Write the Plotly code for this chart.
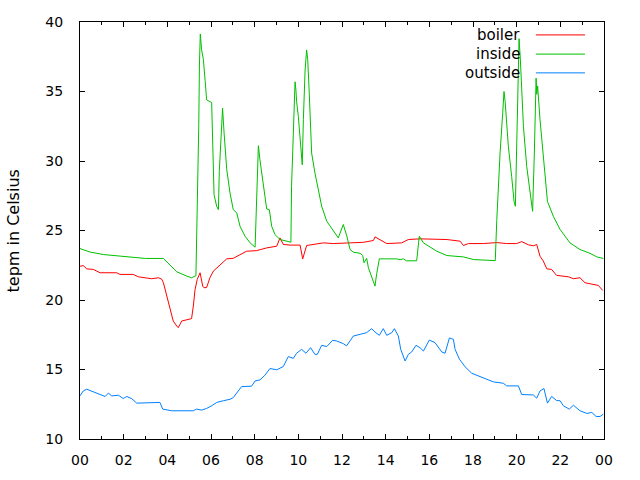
import plotly.graph_objects as go

# ---- data (hour of day, temperature in Celsius) ----
inside_h = [0, 0.46, 1.07, 1.83, 2.75, 3.0, 3.82, 4.43, 4.89, 5.11, 5.31, 5.34, 5.37, 5.44, 5.47, 5.51,
            5.57, 5.65, 5.73, 5.80, 6.03, 6.08, 6.14, 6.26, 6.34, 6.38, 6.49, 6.53, 6.60, 6.72, 6.87,
            7.02, 7.18, 7.33, 7.56, 7.79, 8.02, 8.06, 8.12, 8.17, 8.24, 8.37, 8.47, 8.55, 8.67, 8.78,
            8.93, 9.16, 9.47, 9.66, 9.69, 9.77, 9.85, 9.89, 9.92, 10.0, 10.08, 10.12, 10.18, 10.23,
            10.31, 10.38, 10.43, 10.50, 10.61, 10.76, 10.92, 11.07, 11.30, 11.60, 11.83, 12.06, 12.22,
            12.37, 12.52, 12.83, 12.95, 13.01, 13.13, 13.21, 13.36, 13.51, 13.59, 13.71, 14.51, 14.66,
            14.81, 14.96, 15.42, 15.47, 15.54, 15.73, 16.03, 16.34, 16.80, 17.56, 18.02, 19.02, 19.09,
            19.16, 19.24, 19.36, 19.42, 19.47, 19.62, 19.77, 19.88, 19.94, 20.0, 20.08, 20.11, 20.17,
            20.23, 20.31, 20.46, 20.61, 20.73, 20.81, 20.89, 20.92, 20.96, 21.07, 21.22, 21.41, 21.68,
            21.99, 22.44, 22.9, 23.36, 23.67, 23.97]
inside_t = [23.7, 23.45, 23.27, 23.15, 23.03, 22.99, 22.99, 22.03, 21.72, 21.6, 21.75, 24.0, 28.4, 32.6,
            36.9, 39.14, 38.0, 37.3, 35.8, 34.4, 34.2, 30.93, 27.58, 26.74, 26.5, 29.25, 32.97, 33.8,
            32.0, 29.4, 27.7, 26.5, 26.27, 25.3, 24.59, 24.11, 23.8, 25.79, 29.86, 31.1, 30.1, 28.4,
            27.46, 26.55, 26.5, 25.3, 24.71, 24.35, 24.23, 24.16, 28.18, 32.0, 35.7, 35.1, 34.3, 33.2,
            31.5, 30.57, 29.73, 32.97, 36.55, 37.99, 37.3, 34.88, 30.57, 29.14, 27.94, 26.74, 25.67,
            24.95, 24.47, 25.43, 24.6, 23.63, 23.44, 23.36, 23.2, 22.68, 23.0, 22.32, 21.72, 21.0,
            21.9, 22.96, 22.96, 22.9, 22.96, 22.82, 22.82, 23.77, 24.59, 24.11, 23.8, 23.51, 23.2,
            23.1, 22.91, 22.83, 25.79, 28.18, 30.57, 33.44, 35.0, 34.3, 31.05, 28.9, 27.1, 26.74,
            30.57, 35.84, 38.8, 37.27, 35.36, 32.48, 29.61, 27.7, 26.38, 30.57, 35.96, 34.8, 35.4,
            32.97, 30.1, 27.1, 26.02, 25.07, 24.11, 23.63, 23.36, 23.1, 22.99]

boiler_h = [0, 0.15, 0.31, 0.61, 0.92, 1.68, 1.83, 2.44, 2.67, 3.28, 3.59, 3.74, 3.82, 3.97, 4.12, 4.27,
            4.43, 4.50, 4.66, 4.89, 5.11, 5.19, 5.27, 5.37, 5.50, 5.62, 5.68, 5.80, 5.95, 6.11, 6.34,
            6.56, 6.72, 7.02, 7.33, 7.63, 8.09, 8.55, 9.01, 9.16, 9.31, 9.62, 10.08, 10.2, 10.38, 10.69,
            11.15, 11.6, 12.06, 12.37, 12.98, 13.44, 13.51, 13.74, 14.05, 14.73, 15.04, 15.57, 16.03,
            16.80, 17.41, 17.56, 17.79, 18.47, 19.09, 19.54, 20.0, 20.23, 20.54, 20.76, 20.92, 21.07,
            21.22, 21.38, 21.6, 21.83, 22.37, 22.6, 22.9, 23.13, 23.74, 23.94]
boiler_t = [22.43, 22.47, 22.24, 22.2, 21.96, 21.96, 21.84, 21.84, 21.67, 21.53, 21.6, 21.5, 21.24, 20.28,
            19.33, 18.49, 18.13, 18.01, 18.49, 18.55, 18.66, 19.56, 20.76, 21.48, 21.96, 21.0, 20.88,
            20.9, 21.6, 22.08, 22.39, 22.68, 22.96, 23.0, 23.27, 23.51, 23.55, 23.75, 23.87, 24.47,
            24.0, 23.95, 23.95, 22.96, 23.92, 24.0, 24.11, 24.06, 24.11, 24.11, 24.15, 24.28, 24.54,
            24.35, 24.06, 24.11, 24.35, 24.4, 24.4, 24.35, 24.23, 23.92, 24.06, 24.06, 24.13, 24.06,
            24.06, 24.2, 23.97, 23.9, 23.99, 23.15, 22.8, 22.24, 22.2, 21.77, 21.67, 21.53, 21.6, 21.24,
            21.05, 20.69]

outside_h = [0, 0.15, 0.31, 0.61, 0.92, 1.15, 1.30, 1.45, 1.76, 1.98, 2.14, 2.37, 2.60, 3.05, 3.28, 3.66,
             3.79, 4.2, 5.19, 5.34, 5.57, 5.80, 6.03, 6.26, 6.56, 6.87, 7.02, 7.18, 7.40, 7.86, 8.02,
             8.24, 8.47, 8.70, 9.01, 9.31, 9.54, 9.77, 9.92, 10.15, 10.35, 10.56, 10.76, 10.87, 11.07,
             11.30, 11.57, 11.76, 12.06, 12.21, 12.52, 12.83, 13.13, 13.36, 13.51, 13.71, 13.89, 14.05,
             14.28, 14.4, 14.58, 14.69, 14.89, 15.04, 15.19, 15.39, 15.57, 15.73, 16.0, 16.26, 16.57,
             16.72, 16.92, 17.1, 17.18, 17.38, 17.64, 17.94, 18.32, 18.63, 18.93, 19.39, 19.54, 20.08,
             20.23, 20.76, 20.92, 21.07, 21.25, 21.41, 21.6, 21.83, 21.99, 22.14, 22.41, 22.6, 22.9,
             23.21, 23.44, 23.64, 23.82, 23.97]
outside_t = [13.1, 13.46, 13.58, 13.39, 13.2, 13.06, 13.3, 13.1, 13.15, 12.91, 13.06, 12.9, 12.58, 12.58,
             12.63, 12.63, 12.15, 12.03, 12.03, 12.15, 12.08, 12.2, 12.39, 12.63, 12.75, 12.86, 12.98,
             13.34, 13.77, 13.8, 14.18, 14.25, 14.59, 15.07, 14.98, 15.21, 15.93, 15.8, 16.17, 16.45,
             16.17, 16.57, 16.09, 16.09, 16.74, 16.65, 17.1, 17.05, 16.86, 16.7, 17.41, 17.53, 17.65,
             17.94, 17.7, 17.46, 17.94, 17.46, 17.65, 17.94, 17.41, 16.45, 15.61, 16.09, 16.26, 16.74,
             16.57, 16.33, 17.12, 16.93, 16.26, 16.17, 17.27, 17.17, 16.45, 15.74, 15.19, 14.73, 14.49,
             14.3, 14.11, 14.01, 13.82, 13.82, 13.2, 13.17, 12.94, 13.46, 13.63, 12.58, 13.06, 12.77,
             12.75, 12.39, 12.15, 12.43, 12.03, 11.84, 11.91, 11.62, 11.62, 11.79]

series_names = ["boiler", "inside", "outside"]
series_colors = ["#ff0000", "#00c000", "#0080ff"]

tick_vals = list(range(0, 25, 2))
tick_text = ["00", "02", "04", "06", "08", "10", "12", "14", "16", "18", "20", "22", "00"]
y_ticks = [10, 15, 20, 25, 30, 35, 40]
y_title = "tepm in Celsius"

FONT = "DejaVu Sans"

fig = go.Figure()
for name, hx, ty, col in zip(series_names, [boiler_h, inside_h, outside_h],
                             [boiler_t, inside_t, outside_t], series_colors):
    fig.add_trace(go.Scatter(x=hx, y=ty, mode="lines", name=name,
                             line=dict(color=col, width=1), showlegend=False))

fig.update_layout(
    width=640, height=480,
    margin=dict(l=80, r=36, t=22, b=39),
    paper_bgcolor="white", plot_bgcolor="white",
    font=dict(family=FONT, size=14, color="#000000"),
    showlegend=False,
)
fig.update_xaxes(
    range=[0, 24], tickvals=tick_vals, ticktext=tick_text,
    ticks="inside", ticklen=5, tickcolor="black", tickwidth=1,
    minor=dict(dtick=1, ticks="inside", ticklen=3, tickcolor="black", showgrid=False),
    showline=True, linecolor="black", linewidth=1, mirror="ticks",
    showgrid=False, zeroline=False, ticklabelstandoff=8,
    tickfont=dict(family=FONT, size=14, color="#000000"),
)
fig.update_yaxes(
    range=[10, 40], tickvals=y_ticks,
    ticks="inside", ticklen=5, tickcolor="black", tickwidth=1,
    showline=True, linecolor="black", linewidth=1, mirror="ticks",
    showgrid=False, zeroline=False, ticklabelstandoff=13,
    tickfont=dict(family=FONT, size=14, color="#000000"),
)

# y-axis label
fig.add_annotation(text=y_title, xref="paper", yref="paper", x=-0.126, y=0.5,
                   textangle=-90, showarrow=False, xanchor="center", yanchor="middle",
                   font=dict(family=FONT, size=16, color="#000000"))

# gnuplot-style key: text on the left, line sample on the right
key_rows_y = [0.969, 0.923, 0.878]
for name, col, ry in zip(series_names, series_colors, key_rows_y):
    fig.add_annotation(text=name, xref="paper", yref="paper", x=0.8435, y=ry,
                       xanchor="right", yanchor="middle", showarrow=False,
                       font=dict(family=FONT, size=15, color="#000000"))
    fig.add_shape(type="line", xref="paper", yref="paper", x0=0.870, x1=0.9637,
                  y0=ry, y1=ry, line=dict(color=col, width=1))

fig.write_html("out.html")
